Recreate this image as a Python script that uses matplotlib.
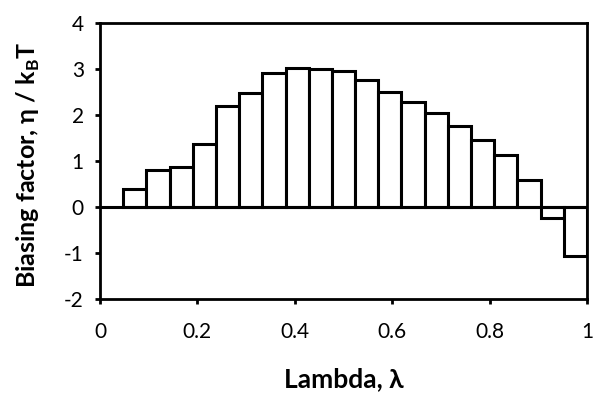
import matplotlib
matplotlib.use("Agg")
import matplotlib.pyplot as plt
import numpy as np

plt.rcParams['font.family'] = ['Lato', 'DejaVu Sans']
plt.rcParams['mathtext.fontset'] = 'custom'
plt.rcParams['mathtext.rm'] = 'Lato'
plt.rcParams['mathtext.bf'] = 'Lato:bold'
plt.rcParams['axes.unicode_minus'] = False

n_windows = 21
lambda_left = [k / n_windows for k in range(n_windows)]
bias = [0.0, 0.38, 0.81, 0.88, 1.37, 2.20, 2.47, 2.92, 3.03, 2.99, 2.95,
        2.77, 2.49, 2.29, 2.05, 1.75, 1.46, 1.12, 0.58, -0.25, -1.06]
xticks = [0, 0.2, 0.4, 0.6, 0.8, 1]
xticklabels = ['0', '0.2', '0.4', '0.6', '0.8', '1']
yticks = [-2, -1, 0, 1, 2, 3, 4]

fig = plt.figure(figsize=(5.95, 3.97), dpi=100)
ax = fig.add_axes([0.168, 0.247, 0.8186, 0.695])

ax.bar(lambda_left[1:], bias[1:], width=1 / n_windows, align='edge',
       facecolor='white', edgecolor='black', linewidth=2.2, zorder=2)
ax.axhline(0, color='black', linewidth=2.2, zorder=3)

ax.set_xlim(0, 1)
ax.set_ylim(-2, 4)
ax.set_xticks(xticks)
ax.set_xticklabels(xticklabels)
ax.set_yticks(yticks)
for s in ax.spines.values():
    s.set_linewidth(2.0)
    s.set_color('black')
ax.tick_params(axis='both', direction='out', length=3.6, width=2, labelsize=15)
ax.tick_params(axis='x', pad=13)
ax.tick_params(axis='y', pad=8)

ax.set_xlabel('Lambda, λ', fontsize=19, fontweight='bold')
ax.set_ylabel(r'Biasing factor, η / k$_{\mathbf{B}}$T', fontsize=18, fontweight='bold')
ax.xaxis.set_label_coords(0.5, (299 - 379) / 276.0, transform=ax.transAxes)
ax.xaxis.label.set_verticalalignment('center')
ax.yaxis.set_label_coords((28 - 100) / 487.0, (299 - 165) / 276.0, transform=ax.transAxes)
ax.yaxis.label.set_verticalalignment('center')

fig.savefig('out.png', dpi=100, facecolor='white')
